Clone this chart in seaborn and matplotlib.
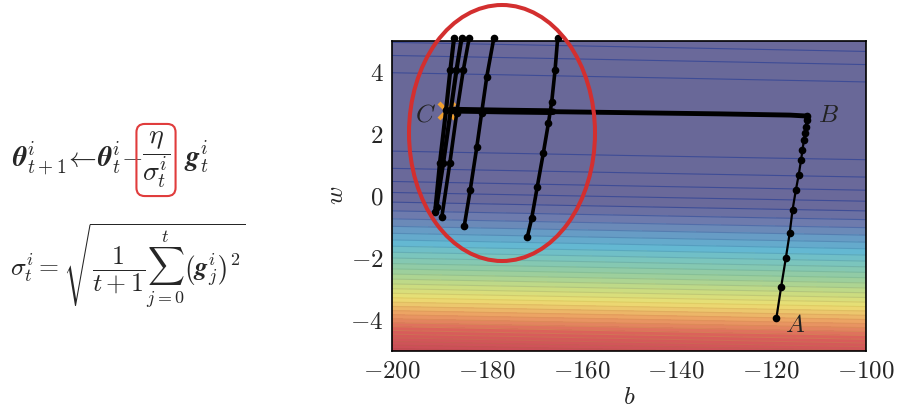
import numpy as np
import seaborn as sns
import matplotlib.pyplot as plt
from matplotlib.colors import LinearSegmentedColormap
from matplotlib.patches import Ellipse

# training data behind the loss surface (model y = b + w*x)
x_data = [338., 333., 328., 207., 226., 25., 179., 60., 208., 606.]
y_data = [640., 633., 619., 393., 428., 27., 193., 66., 226., 1591.]

# path A -> B (dots)
path_b = [-118.9, -117.9, -116.9, -116.1, -115.5, -114.8, -114.2, -113.7,
          -113.4, -113.1, -112.9, -112.7, -112.5, -112.5]
path_w = [-3.94, -2.94, -2.00, -1.21, -0.46, 0.18, 0.67, 1.15,
          1.47, 1.80, 2.03, 2.23, 2.44, 2.57]

# B -> C, the long flat part
ridge_b = [-112.5, -116.0, -131.0, -156.0, -166.0]
ridge_w = [2.57, 2.60, 2.64, 2.69, 2.71]
ridge_left_b = [-166.0, -176.0, -187.5]
ridge_left_w = [2.71, 2.73, 2.76]

# the steep zig-zag strokes inside the circle
zig1a_b = [-190.9, -189.9, -188.6, -187.7, -186.9]
zig1a_w = [-0.52, 1.05, 2.76, 4.05, 5.10]
zig1b_b = [-190.6, -189.2, -187.6, -186.4, -185.3]
zig1b_w = [-0.35, 1.05, 2.76, 4.05, 5.10]
zig2_b = [-189.5, -187.8, -186.35, -184.96, -183.7]
zig2_w = [-0.70, 1.05, 2.66, 4.05, 5.10]
zig3_b = [-184.75, -183.5, -182.1, -181.1, -180.0, -178.5]
zig3_w = [-0.97, 0.18, 1.58, 2.66, 3.84, 5.10]
zig4_b = [-171.46, -170.53, -169.35, -168.08, -167.0, -166.3, -165.6, -165.04]
zig4_w = [-1.34, -0.73, 0.29, 1.37, 2.34, 3.03, 4.05, 5.10]

optimum = (-188.4, 2.72)

x_ticks = [-200, -180, -160, -140, -120, -100]
y_ticks = [-4, -2, 0, 2, 4]

# colours (normalised loss -> rgb)
band_pos = [0.0, 0.14, 0.19, 0.25, 0.30, 0.35, 0.43, 0.52, 0.60, 0.70, 0.82, 1.0]
band_rgb = [(105, 104, 152), (106, 106, 155), (110, 125, 175), (102, 160, 200),
            (100, 185, 210), (120, 196, 192), (150, 205, 160), (200, 220, 130),
            (236, 224, 115), (236, 165, 100), (218, 95, 90), (200, 75, 88)]
line_pos = [0.0, 0.14, 0.21, 0.30, 0.43, 0.60, 0.70, 1.0]
line_rgb = [(62, 76, 150), (62, 76, 150), (85, 115, 172), (85, 165, 195),
            (135, 192, 150), (222, 205, 100), (226, 150, 90), (190, 70, 80)]

band_cmap = LinearSegmentedColormap.from_list(
    "bands", [(p, tuple(c / 255 for c in rgb)) for p, rgb in zip(band_pos, band_rgb)])
line_cmap = LinearSegmentedColormap.from_list(
    "lines", [(p, tuple(c / 255 for c in rgb)) for p, rgb in zip(line_pos, line_rgb)])

sns.set_style("white")
plt.rcParams["mathtext.fontset"] = "cm"
plt.rcParams["font.family"] = ["DejaVu Serif"]

# loss surface
b_grid = np.linspace(-200, -100, 101)
w_grid = np.linspace(-5, 5, 101)
B, W = np.meshgrid(b_grid, w_grid)
xd = np.array(x_data)[:, None, None]
yd = np.array(y_data)[:, None, None]
Z = ((yd - B - W * xd) ** 2).mean(axis=0)

fig = plt.figure(figsize=(9.03, 4.11), dpi=100)
ax = fig.add_axes([392 / 903, 60.3 / 411, 474 / 903, 310 / 411])

cf = ax.contourf(B, W, Z, levels=50, cmap=band_cmap)
ax.contour(B, W, Z, levels=cf.levels, cmap=line_cmap, linewidths=0.8)

# orange cross at the minimum, mostly hidden under the path
ax.plot([optimum[0]], [optimum[1]], "x", ms=11, mew=3, color="#f0a030", zorder=3)

line_kw = dict(color="black", estimator=None, sort=False, ax=ax, legend=False)
sns.lineplot(x=ridge_b, y=ridge_w, linewidth=3.5, zorder=4, **line_kw)
sns.lineplot(x=ridge_left_b, y=ridge_left_w, linewidth=4.8, zorder=4, **line_kw)
sns.lineplot(x=path_b, y=path_w, linewidth=1.6, marker="o", markersize=5.5,
             markeredgewidth=0, zorder=4, **line_kw)
for zb, zw, lw in [(zig1a_b, zig1a_w, 3.0), (zig1b_b, zig1b_w, 3.0),
                   (zig2_b, zig2_w, 2.6), (zig3_b, zig3_w, 2.6),
                   (zig4_b, zig4_w, 2.6)]:
    sns.lineplot(x=zb, y=zw, linewidth=lw, marker="o", markersize=5.5,
                 markeredgewidth=0, zorder=4, clip_on=False, **line_kw)

ax.text(-193.0, 2.6, r"$C$", fontsize=18, ha="center", va="center", color="#222222")
ax.text(-108.0, 2.6, r"$B$", fontsize=18, ha="center", va="center", color="#222222")
ax.text(-115.0, -4.2, r"$A$", fontsize=18, ha="center", va="center", color="#222222")

ax.set_xlim(-200, -100)
ax.set_ylim(-5, 5)
ax.set_xticks(x_ticks)
ax.set_xticklabels([rf"$-{abs(v)}$" if v < 0 else rf"${v}$" for v in x_ticks])
ax.set_yticks(y_ticks)
ax.set_yticklabels([rf"$-{abs(v)}$" if v < 0 else rf"${v}$" for v in y_ticks])
ax.tick_params(direction="in", length=5, width=1, labelsize=18, pad=6,
               top=False, right=False)
ax.set_xlabel(r"$b$", fontsize=18, labelpad=3)
ax.set_ylabel(r"$w$", fontsize=18, labelpad=2)
for s in ax.spines.values():
    s.set_color("black")
    s.set_linewidth(1.2)

# red ellipse around the oscillating part
fig.add_artist(Ellipse((502 / 903, 1 - 133 / 411), 186 / 903, 256 / 411,
                       transform=fig.transFigure, fill=False, ec="#d32f2f",
                       lw=2.9, zorder=10))

# Adagrad formulas
fig.text(12 / 903, 1 - 160 / 411,
         r"$\boldsymbol{\theta}^i_{t+1}\!\leftarrow\!\boldsymbol{\theta}^i_t\!-$",
         ha="left", va="center", fontsize=20)
fig.text(156 / 903, 1 - 160 / 411, r"$\dfrac{\eta}{\sigma^i_t}$",
         ha="center", va="center", fontsize=20,
         bbox=dict(boxstyle="round,pad=0.2,rounding_size=0.3", fc="none",
                   ec="#e03c3c", lw=1.5))
fig.text(184 / 903, 1 - 158 / 411, r"$\boldsymbol{g}^i_t$",
         ha="left", va="center", fontsize=20)
fig.text(10 / 903, 1 - 266 / 411,
         r"$\sigma^i_t = \sqrt{\dfrac{1}{t+1}\sum_{j=0}^{t}\left(\boldsymbol{g}^i_j\right)^2}$",
         ha="left", va="center", fontsize=18.5)

fig.savefig("out.png", dpi=100)
